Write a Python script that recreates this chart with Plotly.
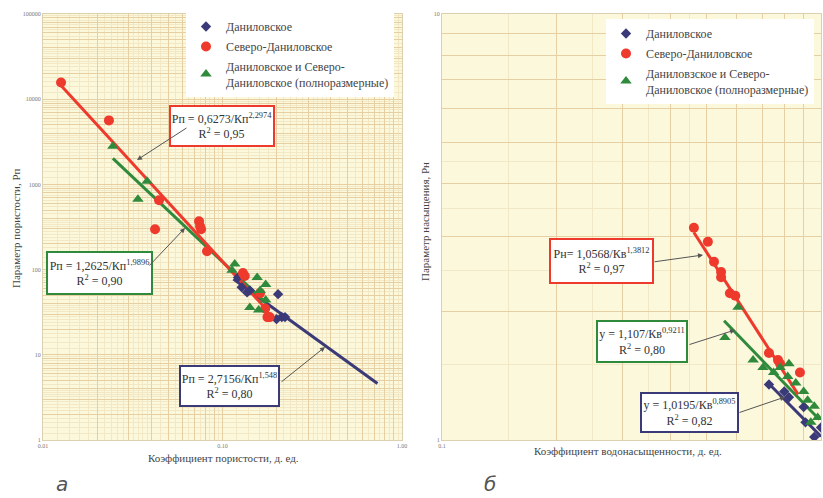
import math
import plotly.graph_objects as go

# ---------------- data ----------------
# Panel a: porosity parameter vs porosity coefficient
kp_dan_x = [0.122, 0.128, 0.137, 0.142, 0.204, 0.200, 0.214, 0.223]
rp_dan_y = [81, 62, 54, 57, 51.5, 26.2, 27.7, 27.7]

kp_sev_x = [0.0126, 0.0233, 0.0443, 0.0421, 0.074, 0.075, 0.076, 0.082, 0.130, 0.133, 0.162, 0.173, 0.178, 0.183]
rp_sev_y = [15700, 5640, 651, 298, 369, 323, 298, 164, 91, 84, 53, 35, 27.7, 27.7]

kp_full_x = [0.0245, 0.038, 0.0338, 0.117, 0.113, 0.156, 0.174, 0.162, 0.174, 0.142, 0.159]
rp_full_y = [2800, 1087, 669, 116, 98, 81, 67, 57, 44, 36, 33.5]

fit_a_sev_x = [0.0126, 0.175]
fit_a_sev_y = [14500, 34.4]
fit_a_full_x = [0.0245, 0.175]
fit_a_full_y = [2024, 40.5]
fit_a_dan_x = [0.115, 0.73]
fit_a_dan_y = [77.3, 4.6]

# Panel b: saturation parameter vs water saturation
kv_sev_x = [0.462, 0.503, 0.522, 0.545, 0.545, 0.575, 0.594, 0.729, 0.77, 0.78, 0.88]
rn_sev_y = [3.15, 2.92, 2.62, 2.48, 2.41, 2.21, 2.18, 1.60, 1.54, 1.51, 1.44]

kv_full_x = [0.604, 0.558, 0.662, 0.703, 0.750, 0.823, 0.78, 0.817, 0.858, 0.90, 0.922, 0.96, 0.98, 0.94]
rn_full_y = [2.05, 1.74, 1.54, 1.48, 1.44, 1.51, 1.48, 1.41, 1.36, 1.30, 1.24, 1.20, 1.13, 1.10]

kv_dan_x = [0.729, 0.80, 0.823, 0.90, 0.91, 0.96, 1.0]
rn_dan_y = [1.35, 1.30, 1.26, 1.195, 1.10, 1.016, 1.07]

fit_b_sev_x = [0.462, 0.87]
fit_b_sev_y = [3.07, 1.28]
fit_b_full_x = [0.555, 0.99]
fit_b_full_y = [1.905, 1.117]
fit_b_dan_x = [0.72, 1.0]
fit_b_dan_y = [1.37, 1.02]

names = ["Даниловское", "Северо-Даниловское", "Даниловское и Северо-<br>Даниловское (полноразмерные)"]
names_b = ["Даниловское", "Северо-Даниловское", "Даниловзское и Северо-<br>Даниловское (полноразмерные)"]

eq_a = ["Рп = 0,6273/Кп<sup>2,2974</sup><br>R<sup>2</sup> = 0,95",
        "Рп = 1,2625/Кп<sup>1,9896</sup><br>R<sup>2</sup> = 0,90",
        "Рп = 2,7156/Кп<sup>1,548</sup><br>R<sup>2</sup> = 0,80"]
eq_b = ["Рн= 1,0568/Кв<sup>1,3812</sup><br>R<sup>2</sup> = 0,97",
        "y = 1,107/Кв<sup>0,9211</sup><br>R<sup>2</sup> = 0,80",
        "y = 1,0195/Кв<sup>0,8905</sup><br>R<sup>2</sup> = 0,82"]

# ---------------- style ----------------
NAVY = "#3b3a78"
RED = "#ee3a2c"
GREEN = "#2f8a3c"
SERIF = "Liberation Serif"
W, H = 823, 498

fig = go.Figure()

def pts(x, y, name, color, symbol, size, xa, ya, legend, grp):
    fig.add_trace(go.Scatter(x=x, y=y, mode="markers", name=name, legendgroup=grp,
                             marker=dict(color=color, symbol=symbol, size=size, line=dict(width=0)),
                             xaxis=xa, yaxis=ya, legend=legend))

def fit(x, y, color, xa, ya):
    fig.add_trace(go.Scatter(x=x, y=y, mode="lines", showlegend=False,
                             line=dict(color=color, width=3), xaxis=xa, yaxis=ya, hoverinfo="skip"))

# panel a
fit(fit_a_dan_x, fit_a_dan_y, NAVY, "x", "y")
fit(fit_a_full_x, fit_a_full_y, GREEN, "x", "y")
fit(fit_a_sev_x, fit_a_sev_y, RED, "x", "y")
pts(kp_dan_x, rp_dan_y, names[0], NAVY, "diamond", 8, "x", "y", "legend", "a1")
pts(kp_sev_x, rp_sev_y, names[1], RED, "circle", 10, "x", "y", "legend", "a2")
pts(kp_full_x, rp_full_y, names[2], GREEN, "triangle-up", 10, "x", "y", "legend", "a3")

# panel b
fit(fit_b_dan_x, fit_b_dan_y, NAVY, "x2", "y2")
fit(fit_b_full_x, fit_b_full_y, GREEN, "x2", "y2")
fit(fit_b_sev_x, fit_b_sev_y, RED, "x2", "y2")
pts(kv_dan_x, rn_dan_y, names_b[0], NAVY, "diamond", 8, "x2", "y2", "legend2", "b1")
pts(kv_sev_x, rn_sev_y, names_b[1], RED, "circle", 10, "x2", "y2", "legend2", "b2")
pts(kv_full_x, rn_full_y, names_b[2], GREEN, "triangle-up", 10, "x2", "y2", "legend2", "b3")

# ---------------- grid (graph paper) ----------------
def major_vals(d0, d1):
    v = []
    for n in range(d0, d1):
        for k in range(1, 10):
            v.append(k * 10 ** n)
    v.append(10 ** d1)
    return v

def minor_vals(d0, d1, fine=True):
    v = []
    for n in range(d0, d1):
        for k in range(1, 10):
            if fine:
                subs = [0.2, 0.4, 0.6, 0.8] if k < 4 else [0.5]
            else:
                subs = [0.5] if k < 5 else []
            for s in subs:
                v.append((k + s) * 10 ** n)
    return v

def labels(vals, fmt):
    out = []
    for v in vals:
        lv = math.log10(v)
        out.append(fmt(v) if abs(lv - round(lv)) < 1e-6 else "")
    return out

GRID = "#e6cfa2"
MINOR = "#f3e8c6"
TICKF = dict(family=SERIF, size=6, color="#777")

ax_common = dict(type="log", showline=True, linecolor="#ddd0b0", linewidth=1, mirror=True,
                 gridcolor=GRID, gridwidth=1, zeroline=False, ticks="", tickfont=TICKF,
                 tickmode="array", showspikes=False)

xa_vals = major_vals(-2, 0)
ya_vals = major_vals(0, 5)
xb_vals = major_vals(-1, 0)
yb_vals = major_vals(0, 1)

x0a, x1a = 43 / W, 402 / W
x0b, x1b = 442 / W, 821 / W
y0, y1 = 1 - 440 / H, 1 - 14 / H

LEGFONT = dict(family=SERIF, size=12, color="#444")

fig.update_layout(
    template="none",
    xaxis=dict(ax_common, domain=[x0a, x1a], range=[-2, 0], anchor="y",
               tickvals=xa_vals, ticktext=labels(xa_vals, lambda v: f"{v:.2f}"),
               minor=dict(tickvals=minor_vals(-2, 0), showgrid=True, gridcolor=MINOR, gridwidth=0.6, ticks="")),
    yaxis=dict(ax_common, domain=[y0, y1], range=[0, 5], anchor="x",
               tickvals=ya_vals, ticktext=labels(ya_vals, lambda v: f"{int(round(v))}"),
               minor=dict(tickvals=minor_vals(0, 5), showgrid=True, gridcolor=MINOR, gridwidth=0.6, ticks="")),
    xaxis2=dict(ax_common, domain=[x0b, x1b], range=[-1, 0], anchor="y2",
                tickvals=xb_vals, ticktext=[("0.1" if i == 0 else "") for i in range(len(xb_vals))],
                minor=dict(tickvals=minor_vals(-1, 0, False), showgrid=True, gridcolor=MINOR, gridwidth=0.6, ticks="")),
    yaxis2=dict(ax_common, domain=[y0, y1], range=[0, 1], anchor="x2",
                tickvals=yb_vals, ticktext=labels(yb_vals, lambda v: f"{int(round(v))}"),
                minor=dict(tickvals=minor_vals(0, 1, False), showgrid=True, gridcolor=MINOR, gridwidth=0.6, ticks="")),
    plot_bgcolor="#fcf8dc",
    paper_bgcolor="white",
    width=W, height=H, autosize=False,
    margin=dict(l=0, r=0, t=0, b=0),
    font=dict(family=SERIF, color="#333"),
    legend=dict(x=186 / W, y=1 - 12 / H, xanchor="left", yanchor="top", bgcolor="white",
                font=LEGFONT, itemwidth=30, tracegroupgap=1),
    legend2=dict(x=606 / W, y=1 - 19 / H, xanchor="left", yanchor="top", bgcolor="white",
                 font=LEGFONT, itemwidth=30, tracegroupgap=1),
)

# ---------------- annotations ----------------
def P(px, py):
    return px / W, 1 - py / H

ann = []

def box(text, cx, cy, w, h, color):
    x, y = P(cx, cy)
    ann.append(dict(text=text, x=x, y=y, xref="paper", yref="paper", showarrow=False,
                    xanchor="center", yanchor="middle", width=w, height=h,
                    bgcolor="white", bordercolor=color, borderwidth=2, borderpad=1,
                    font=dict(family=SERIF, size=12, color="#333"), align="center"))

def arrow(tail, tip):
    x, y = P(*tip)
    ann.append(dict(text="", x=x, y=y, xref="paper", yref="paper", showarrow=True,
                    ax=tail[0] - tip[0], ay=tail[1] - tip[1], arrowhead=2, arrowsize=1,
                    arrowwidth=1, arrowcolor="#555"))

box(eq_a[0], 222, 126, 100, 36, RED)
box(eq_a[1], 99.5, 273, 101, 38, GREEN)
box(eq_a[2], 229.5, 386, 95, 36, NAVY)
box(eq_b[0], 601.5, 261, 99, 40, RED)
box(eq_b[1], 642, 341.5, 86, 37, GREEN)
box(eq_b[2], 689.5, 412.5, 93, 35, NAVY)

arrow((188, 127), (137, 160))
arrow((148, 267), (185, 228))
arrow((280, 383), (325, 347))
arrow((653, 262), (703, 255))
arrow((688, 345), (735, 330))
arrow((738, 413), (785, 397))

def text(t, px, py, size, angle=0, color="#444", family=SERIF):
    x, y = P(px, py)
    ann.append(dict(text=t, x=x, y=y, xref="paper", yref="paper", showarrow=False,
                    xanchor="center", yanchor="middle", textangle=angle,
                    font=dict(family=family, size=size, color=color)))

text("Параметр пористости, Рп", 16, 228, 11, -90)
text("Коэффициент пористости, д. ед.", 223, 458, 11)
text("Параметр насыщения, Рн", 425, 222, 11, -90)
text("Коэффициент водонасыщенности, д. ед.", 628, 451, 11)
text("<i>а</i>", 62, 484, 20, 0, "#555", "DejaVu Sans")
text("<i>б</i>", 490, 484, 20, 0, "#555", "DejaVu Sans")

fig.update_layout(annotations=ann)

fig.write_html("out.html",
               config={"displayModeBar": False},
               post_script="document.body.style.margin='0';document.body.style.overflow='hidden';")
